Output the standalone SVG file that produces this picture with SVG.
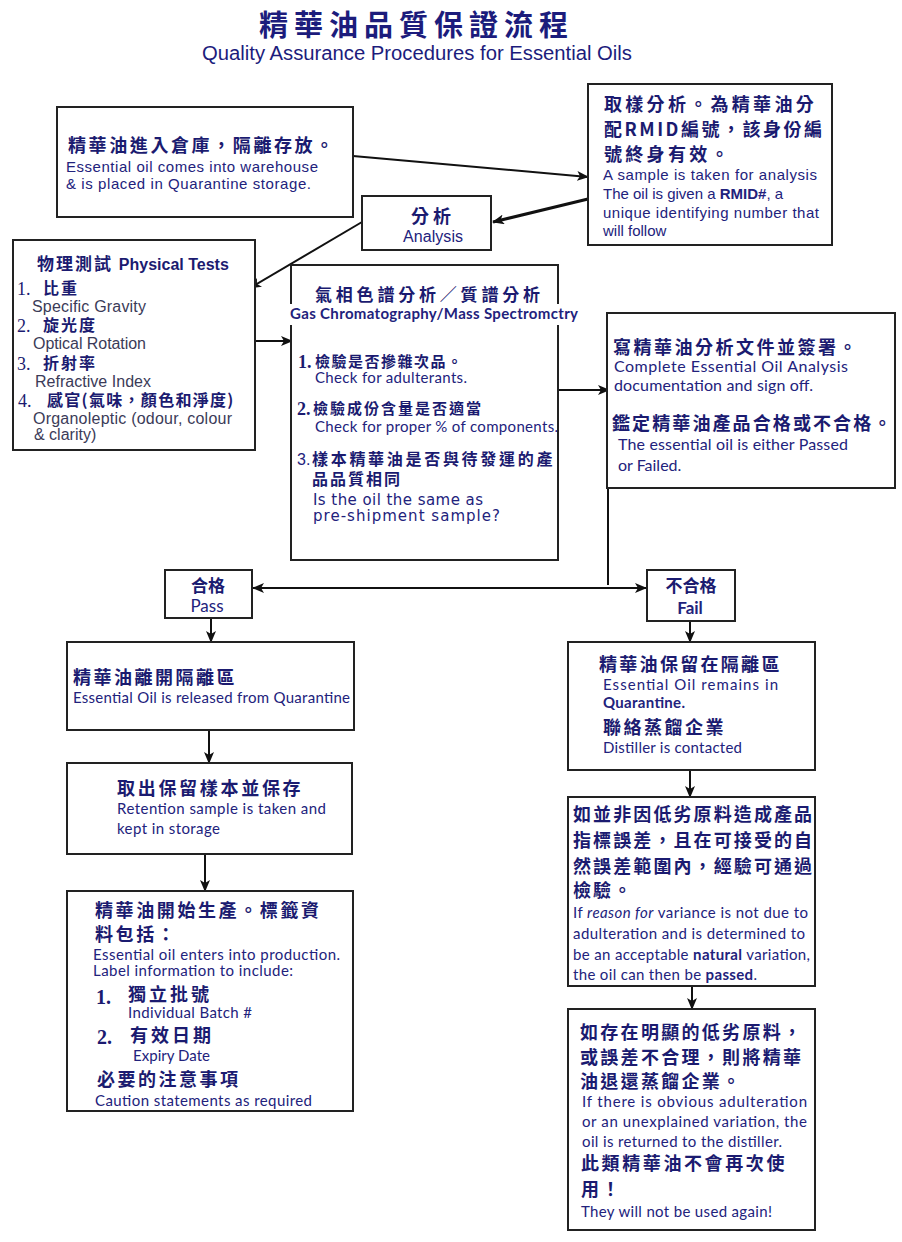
<svg xmlns="http://www.w3.org/2000/svg" width="902" height="1242" viewBox="0 0 902 1242">
<style>
.box{fill:#fff;stroke:#222;stroke-width:2}
.zh{font-family:"Noto Sans CJK TC","Noto Sans CJK SC",sans-serif;font-weight:700;fill:#1b1b70;font-size:18px}
.en{font-family:"Liberation Sans",Arial,sans-serif;fill:#22227c;font-size:15px}
.gr{font-family:"Liberation Sans",Arial,sans-serif;fill:#3b3b58;font-size:16px}
.cal{font-family:Lato,"Liberation Sans",sans-serif;fill:#22227c;font-size:15px}
.num{font-family:"Liberation Serif",serif;font-size:18px;fill:#1b1b70}
.conn line,.conn polyline{stroke:#111;stroke-width:2;fill:none}
</style>
<defs>
<marker id="ah" viewBox="0 0 12 10" refX="11" refY="5" markerWidth="12" markerHeight="10" markerUnits="userSpaceOnUse" orient="auto-start-reverse">
<path d="M0,0 L12,5 L0,10 L3,5 z" fill="#111"/>
</marker>
</defs>
<rect width="902" height="1242" fill="#fff"/>

<g id="title">
<text x="259" y="36" class="zh" style="font-size:29px;letter-spacing:6px;fill:#1c1c7c">精華油品質保證流程</text>
<text x="202" y="60" class="en" style="font-size:20px;fill:#1c1c7c" textLength="430" lengthAdjust="spacingAndGlyphs">Quality Assurance Procedures for Essential Oils</text>
</g>

<g class="conn">
<line x1="353" y1="156" x2="588" y2="177" marker-end="url(#ah)"/>
<line x1="588" y1="199" x2="493" y2="222" marker-end="url(#ah)" style="stroke-width:3"/>
<line x1="362" y1="222" x2="250" y2="288" marker-end="url(#ah)"/>
<line x1="255" y1="341" x2="292" y2="341" marker-end="url(#ah)"/>
<line x1="558" y1="390" x2="609" y2="390" marker-end="url(#ah)"/>
<line x1="608" y1="488" x2="608" y2="585"/>
<line x1="253" y1="588" x2="646" y2="588" marker-start="url(#ah)" marker-end="url(#ah)"/>
<line x1="211" y1="618" x2="211" y2="642" marker-end="url(#ah)"/>
<line x1="690" y1="621" x2="690" y2="642" marker-end="url(#ah)"/>
<line x1="209" y1="730" x2="209" y2="763" marker-end="url(#ah)"/>
<line x1="205" y1="854" x2="205" y2="891" marker-end="url(#ah)"/>
<line x1="690" y1="770" x2="690" y2="797" marker-end="url(#ah)"/>
<line x1="692" y1="986" x2="692" y2="1009" marker-end="url(#ah)"/>
</g>

<g id="warehouse">
<rect class="box" x="57" y="107" width="296" height="110"/>
<text x="68" y="152" class="zh" style="letter-spacing:2.6px">精華油進入倉庫，隔離存放。</text>
<text x="66" y="172" class="en" textLength="252">Essential oil comes into warehouse</text>
<text x="66" y="189" class="en" textLength="245">&amp; is placed in Quarantine storage.</text>
</g>

<g id="sample">
<rect class="box" x="588" y="84" width="244" height="161"/>
<text x="604" y="111" class="zh" style="letter-spacing:3.3px">取樣分析。為精華油分</text>
<text x="604" y="136" class="zh" style="letter-spacing:2.5px">配RMID編號，該身份編</text>
<text x="604" y="161" class="zh" style="letter-spacing:3.3px">號終身有效。</text>
<text x="603" y="180" class="en" textLength="214">A sample is taken for analysis</text>
<text x="603" y="199" class="en">The oil is given a <tspan font-weight="bold">RMID#</tspan>,  a</text>
<text x="603" y="218" class="en" textLength="216">unique identifying number that</text>
<text x="603" y="236" class="en">will follow</text>
</g>

<g id="analysis">
<rect class="box" x="362" y="196" width="129" height="54"/>
<text x="411" y="223" class="zh" style="letter-spacing:4px">分析</text>
<text x="403" y="242" class="en" style="font-size:16px" textLength="60">Analysis</text>
</g>

<g id="physical">
<rect class="box" x="13" y="240" width="242" height="210"/>
<text x="37" y="270" class="zh" style="font-size:17px;letter-spacing:2px">物理測試 <tspan style="font-family:'Liberation Sans',Arial,sans-serif;font-size:16px;letter-spacing:0">Physical Tests</tspan></text>
<text x="17" y="295" class="num">1.</text><text x="43" y="294" class="zh" style="font-size:16px;letter-spacing:2px">比重</text>
<text x="32" y="312" class="gr" textLength="114">Specific Gravity</text>
<text x="17" y="332" class="num">2.</text><text x="43" y="331" class="zh" style="font-size:16px;letter-spacing:2px">旋光度</text>
<text x="33" y="349" class="gr" textLength="113">Optical Rotation</text>
<text x="17" y="370" class="num">3.</text><text x="43" y="369" class="zh" style="font-size:16px;letter-spacing:2px">折射率</text>
<text x="35" y="387" class="gr" textLength="116">Refractive Index</text>
<text x="18" y="407" class="num">4.</text><text x="47" y="406" class="zh" style="font-size:16px;letter-spacing:1.3px">感官(氣味，顏色和淨度)</text>
<text x="33" y="424" class="gr" textLength="199">Organoleptic (odour, colour</text>
<text x="34" y="440" class="gr">&amp; clarity)</text>
</g>

<g id="gcms">
<rect class="box" x="291" y="265" width="267" height="295"/>
<text x="315" y="301" class="zh" style="font-size:17px;letter-spacing:3.8px">氣相色譜分析／質譜分析</text>
<rect x="288" y="304" width="294" height="21" fill="#fff"/>
<text x="290" y="319" class="cal" style="font-weight:bold" textLength="288">Gas Chromatography/Mass Spectromctry</text>
<text x="298" y="368" class="num" style="font-weight:bold">1.</text><text x="315" y="367" class="zh" style="font-size:15px;letter-spacing:1.5px">檢驗是否摻雜次品。</text>
<text x="315" y="383" class="cal" textLength="152">Check for adulterants.</text>
<text x="297" y="415" class="num" style="font-weight:bold">2.</text><text x="313" y="414" class="zh" style="font-size:15px;letter-spacing:2px">檢驗成份含量是否適當</text>
<text x="315" y="432" class="cal" textLength="243">Check for proper % of components.</text>
<text x="297" y="465" class="en" style="font-size:16px">3.</text><text x="312" y="465" class="zh" style="font-size:16px;letter-spacing:2.7px">樣本精華油是否與待發運的產</text>
<text x="312" y="485" class="zh" style="font-size:16px;letter-spacing:2px">品品質相同</text>
<text x="313" y="505" style="font-family:'DejaVu Sans',sans-serif;font-size:15px;fill:#22227c" textLength="170">Is the oil the same as</text>
<text x="313" y="521" style="font-family:'DejaVu Sans',sans-serif;font-size:15px;fill:#22227c" textLength="187">pre-shipment  sample?</text>
</g>

<g id="documentation">
<rect class="box" x="607" y="313" width="288" height="175"/>
<text x="613" y="354" class="zh" style="letter-spacing:2.5px">寫精華油分析文件並簽署。</text>
<text x="614" y="372" class="cal" style="font-size:16px" textLength="234">Complete  Essential  Oil  Analysis</text>
<text x="614" y="391" class="cal" style="font-size:16px" textLength="199">documentation and sign off.</text>
<text x="612" y="430" class="zh" style="letter-spacing:2.1px">鑑定精華油產品合格或不合格。</text>
<text x="618" y="450" class="cal" style="font-size:16px" textLength="230">The essential oil is either Passed</text>
<text x="618" y="471" class="cal" style="font-size:16px">or Failed.</text>
</g>

<g id="pass">
<rect class="box" x="165" y="570" width="87" height="48"/>
<text x="208" y="592" class="zh" style="font-size:17px" text-anchor="middle">合格</text>
<text x="207" y="612" class="cal" style="font-size:17px" text-anchor="middle">Pass</text>
</g>

<g id="fail">
<rect class="box" x="647" y="570" width="88" height="51"/>
<text x="691" y="592" class="zh" style="font-size:17px" text-anchor="middle">不合格</text>
<text x="690" y="614" class="cal" style="font-size:17px;font-weight:bold" text-anchor="middle">Fail</text>
</g>

<g id="released">
<rect class="box" x="67" y="642" width="287" height="88"/>
<text x="73" y="684" class="zh" style="letter-spacing:2.5px">精華油離開隔離區</text>
<text x="73" y="703" class="cal" textLength="277">Essential Oil is released from Quarantine</text>
</g>

<g id="retention">
<rect class="box" x="67" y="763" width="285" height="91"/>
<text x="117" y="795" class="zh" style="letter-spacing:2.7px">取出保留樣本並保存</text>
<text x="117" y="814" class="cal" textLength="209">Retention sample is taken and</text>
<text x="117" y="834" class="cal" textLength="103">kept in storage</text>
</g>

<g id="production">
<rect class="box" x="67" y="891" width="286" height="220"/>
<text x="95" y="917" class="zh" style="letter-spacing:2.6px">精華油開始生產。標籤資</text>
<text x="95" y="941" class="zh" style="letter-spacing:2.6px">料包括：</text>
<text x="93" y="960" class="cal" textLength="247">Essential oil enters into production.</text>
<text x="93" y="976" class="cal" textLength="200">Label information to include:</text>
<text x="96" y="1004" class="num" style="font-size:20px;font-weight:bold">1.</text><text x="128" y="1001" class="zh" style="letter-spacing:3px">獨立批號</text>
<text x="128" y="1018" class="cal" textLength="124">Individual Batch #</text>
<text x="97" y="1044" class="num" style="font-size:20px;font-weight:bold">2.</text><text x="130" y="1042" class="zh" style="letter-spacing:3px">有效日期</text>
<text x="133" y="1061" class="cal" textLength="77">Expiry Date</text>
<text x="97" y="1086" class="zh" style="letter-spacing:2.5px">必要的注意事項</text>
<text x="95" y="1106" class="cal" textLength="217">Caution statements as required</text>
</g>

<g id="remains">
<rect class="box" x="568" y="642" width="247" height="128"/>
<text x="599" y="671" class="zh" style="letter-spacing:2.3px">精華油保留在隔離區</text>
<text x="603" y="690" class="cal" textLength="175">Essential  Oil  remains  in</text>
<text x="603" y="708" class="cal" style="font-weight:bold" textLength="82">Quarantine.</text>
<text x="603" y="734" class="zh" style="letter-spacing:2.5px">聯絡蒸餾企業</text>
<text x="603" y="753" class="cal" textLength="139">Distiller is contacted</text>
</g>

<g id="variance">
<rect class="box" x="568" y="797" width="247" height="189"/>
<text x="573" y="821" class="zh" style="letter-spacing:2.1px">如並非因低劣原料造成產品</text>
<text x="573" y="847" class="zh" style="letter-spacing:2.1px">指標誤差，且在可接受的自</text>
<text x="573" y="873" class="zh" style="letter-spacing:2.1px">然誤差範圍內，經驗可通過</text>
<text x="573" y="897" class="zh" style="letter-spacing:2.1px">檢驗。</text>
<text x="573" y="918" class="cal" textLength="235">If <tspan font-style="italic">reason for</tspan> variance is not due to</text>
<text x="573" y="939" class="cal" textLength="232">adulteration and is determined to</text>
<text x="573" y="960" class="cal" textLength="237">be an acceptable <tspan font-weight="bold">natural</tspan> variation,</text>
<text x="573" y="980" class="cal" textLength="184">the oil can then be <tspan font-weight="bold">passed</tspan>.</text>
</g>

<g id="returned">
<rect class="box" x="568" y="1009" width="247" height="221"/>
<text x="580" y="1039" class="zh" style="letter-spacing:2.3px">如存在明顯的低劣原料，</text>
<text x="580" y="1064" class="zh" style="letter-spacing:2.3px">或誤差不合理，則將精華</text>
<text x="580" y="1088" class="zh" style="letter-spacing:2.3px">油退還蒸餾企業。</text>
<text x="582" y="1107" class="cal" textLength="225">If there is obvious adulteration</text>
<text x="582" y="1127" class="cal" textLength="225">or an unexplained variation, the</text>
<text x="582" y="1147" class="cal" textLength="200">oil is returned to the distiller.</text>
<text x="581" y="1170" class="zh" style="letter-spacing:2.6px">此類精華油不會再次使</text>
<text x="581" y="1196" class="zh" style="letter-spacing:2.6px">用！</text>
<text x="581" y="1217" class="cal" textLength="191">They will not be used again!</text>
</g>
</svg>
